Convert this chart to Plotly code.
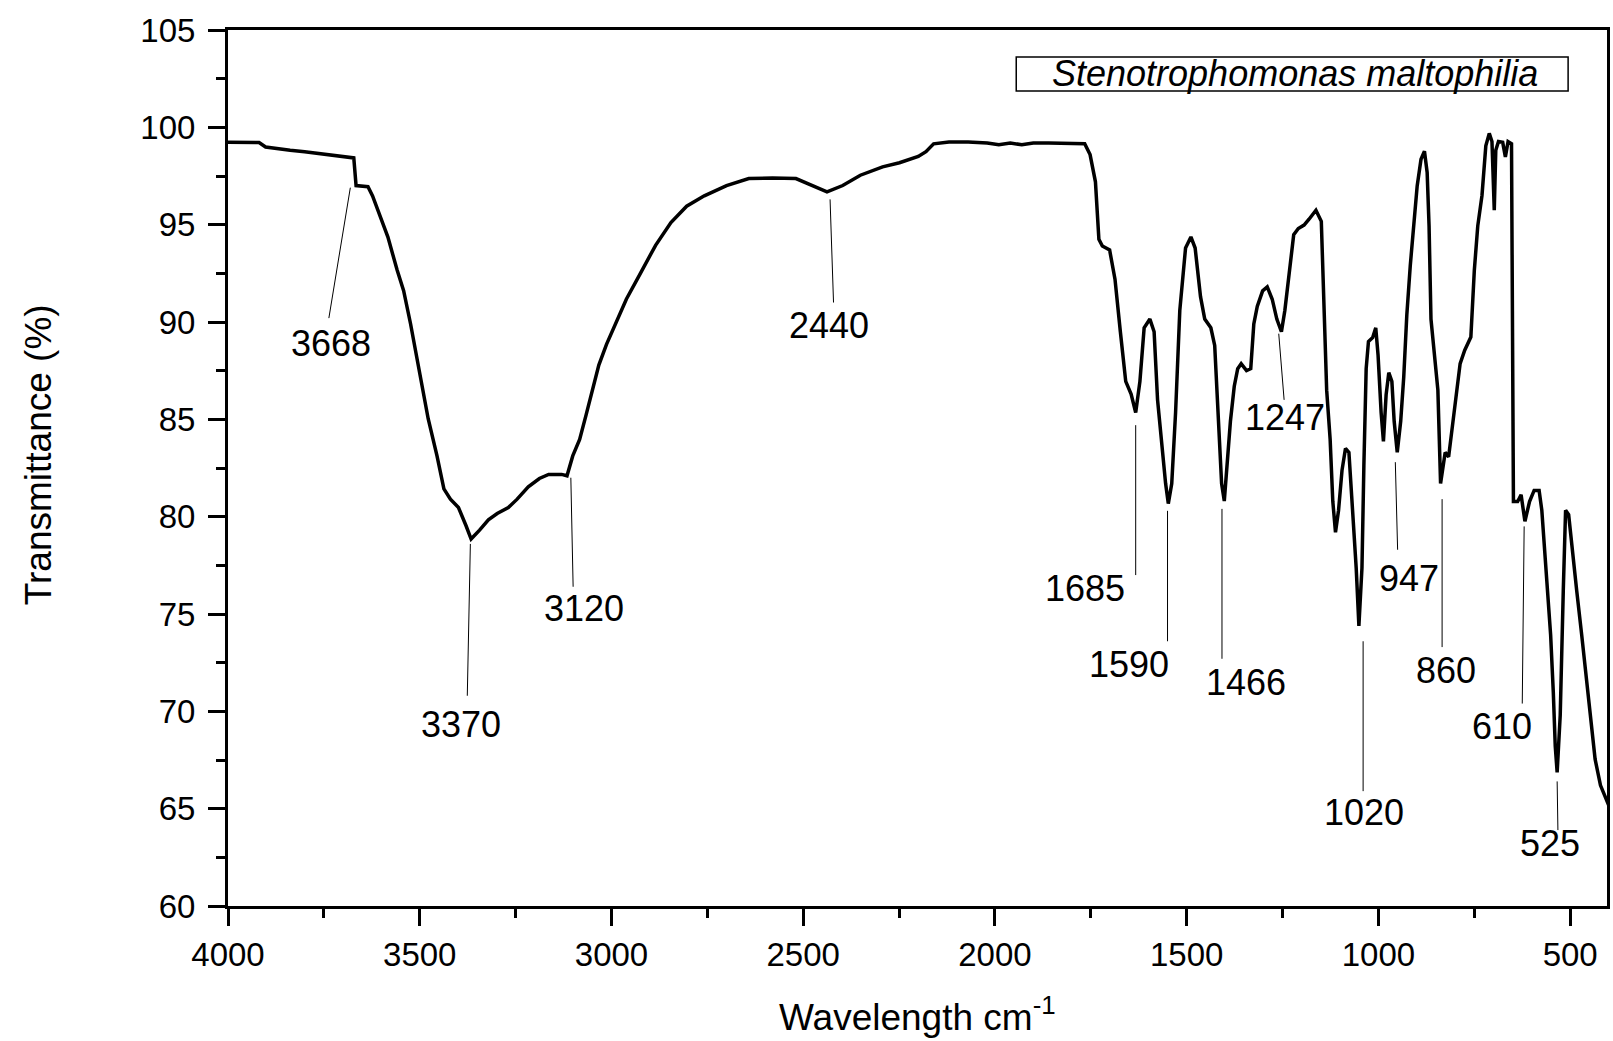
import plotly.graph_objects as go

# ---- spectrum data (wavenumber cm-1, transmittance %) ----
wavenumber = [
    4000, 3960, 3919, 3902, 3870, 3838, 3800, 3757, 3720, 3690, 3672, 3666, 3650, 3635,
    3623, 3606, 3583, 3559, 3542, 3524, 3501, 3478, 3455, 3437, 3420, 3399, 3379, 3366,
    3344, 3321, 3298, 3269, 3246, 3217, 3188, 3164, 3130, 3116, 3101, 3083, 3066, 3048,
    3033, 3013, 2990, 2961, 2926, 2885, 2845, 2804, 2758, 2700, 2642, 2580, 2519, 2479,
    2438, 2397, 2351, 2293, 2249, 2200, 2180, 2160, 2120, 2070, 2020, 1990, 1960, 1930,
    1900, 1860, 1800, 1766, 1752, 1738, 1729, 1720, 1701, 1687, 1673, 1659, 1645, 1633,
    1622, 1611, 1596, 1585, 1576, 1566, 1555, 1548, 1539, 1529, 1518, 1503, 1489, 1478,
    1464, 1453, 1437, 1427, 1418, 1409, 1402, 1393, 1386, 1376, 1367, 1358, 1344, 1333,
    1325, 1316, 1302, 1290, 1277, 1265, 1253, 1244, 1233, 1221, 1209, 1194, 1181, 1163,
    1149, 1142, 1135, 1126, 1119, 1112, 1104, 1095, 1086, 1077, 1070, 1064, 1058, 1051,
    1043, 1038, 1032, 1026, 1015, 1007, 1001, 993, 987, 980, 973, 965, 959, 951,
    942, 934, 926, 917, 908, 899, 889, 880, 873, 868, 863, 854, 845, 838,
    826, 817, 806, 796, 787, 775, 759, 750, 741, 730, 720, 711, 704, 698,
    694, 687, 676, 669, 662, 653, 648, 637, 628, 618, 606, 594, 581, 574,
    563, 551, 544, 539, 534, 526, 518, 512, 504, 495, 483, 470, 458, 446,
    435, 421, 407, 398,
]
transmittance = [
    99.24, 99.24, 99.22, 98.99, 98.90, 98.82, 98.75, 98.65, 98.58, 98.50, 98.43, 97.01, 96.98, 96.95,
    96.48, 95.63, 94.36, 92.67, 91.61, 89.91, 87.58, 85.03, 83.12, 81.43, 80.90, 80.47, 79.52, 78.85,
    79.31, 79.84, 80.16, 80.47, 80.90, 81.53, 81.96, 82.17, 82.17, 82.10, 83.12, 83.97, 85.24, 86.73,
    87.79, 88.85, 89.91, 91.18, 92.45, 93.94, 95.11, 95.95, 96.48, 97.01, 97.37, 97.40, 97.37, 97.01,
    96.69, 97.01, 97.54, 97.97, 98.18, 98.50, 98.75, 99.15, 99.25, 99.25, 99.20, 99.10, 99.20, 99.10,
    99.20, 99.20, 99.20, 99.16, 98.60, 97.20, 94.25, 93.90, 93.70, 92.20, 89.50, 86.95, 86.30, 85.35,
    86.95, 89.70, 90.15, 89.50, 86.00, 83.75, 81.70, 80.67, 81.70, 85.35, 90.60, 93.80, 94.37, 93.80,
    91.30, 90.15, 89.70, 88.80, 85.35, 81.70, 80.80, 83.07, 84.90, 86.70, 87.60, 87.86, 87.50, 87.60,
    89.90, 90.80, 91.60, 91.80, 91.17, 90.15, 89.50, 90.60, 92.65, 94.48, 94.80, 94.98, 95.28, 95.74,
    95.17, 90.80, 86.50, 83.98, 80.78, 79.20, 80.33, 82.38, 83.50, 83.30, 81.24, 79.40, 77.36, 74.39,
    77.36, 82.60, 87.60, 89.00, 89.20, 89.70, 88.30, 85.35, 83.87, 86.26, 87.40, 86.95, 84.90, 83.30,
    84.90, 87.18, 90.37, 92.90, 94.94, 96.99, 98.36, 98.77, 97.68, 94.94, 90.15, 88.09, 86.50, 81.70,
    83.30, 83.07, 84.90, 86.70, 87.86, 88.55, 89.23, 92.65, 94.94, 96.50, 99.05, 99.69, 99.27, 95.74,
    98.82, 99.27, 99.23, 98.48, 99.27, 99.16, 80.78, 80.78, 81.12, 79.76, 80.78, 81.35, 81.35, 80.33,
    77.36, 73.93, 70.97, 68.23, 66.86, 69.80, 76.20, 80.33, 80.10, 78.27, 76.20, 73.93, 71.65, 69.37,
    67.54, 66.20, 65.50, 65.10,
]

# ---- peak annotations ----
peak_labels = ["3668", "3370", "3120", "2440", "1685", "1590", "1466",
               "1247", "1020", "947", "860", "610", "525"]
leader_x0 = [3681, 3368, 3106, 2430, 1633, 1550, 1408, 1260, 1040, 956, 834, 620, 534]
leader_y0 = [96.9, 78.6, 82.0, 96.3, 84.7, 80.3, 80.4, 89.4, 73.6, 82.8, 80.9, 79.5, 66.4]
leader_x1 = [3737, 3376, 3100, 2421, 1633, 1550, 1408, 1246, 1040, 950, 834, 625, 532]
leader_y1 = [90.2, 70.8, 76.4, 91.0, 77.0, 73.6, 72.7, 86.0, 65.9, 78.3, 73.3, 70.4, 63.9]
label_x = [3731, 3393, 3071, 2434, 1764, 1651, 1346, 1244, 1038, 920, 824, 678, 552]
label_y = [88.9, 69.3, 75.3, 89.8, 76.3, 72.4, 71.5, 85.1, 64.8, 76.8, 72.1, 69.2, 63.2]

sample_name = "Stenotrophomonas maltophilia"
x_title = "Wavelength cm<sup>-1</sup>"
y_title = "Transmittance (%)"

FONT = "Liberation Sans, Arial, sans-serif"

fig = go.Figure()
fig.add_trace(go.Scatter(
    x=wavenumber, y=transmittance, mode="lines",
    line=dict(color="black", width=3.5), showlegend=False, hoverinfo="skip",
))

for i, lab in enumerate(peak_labels):
    fig.add_shape(type="line", xref="x", yref="y",
                  x0=leader_x0[i], y0=leader_y0[i], x1=leader_x1[i], y1=leader_y1[i],
                  line=dict(color="black", width=1))
    fig.add_annotation(x=label_x[i], y=label_y[i], xref="x", yref="y", text=lab,
                       showarrow=False, xanchor="center", yanchor="middle",
                       font=dict(family=FONT, size=36, color="black"))

# sample name box
fig.add_shape(type="rect", xref="paper", yref="paper",
              x0=0.5716, x1=0.9718, y0=0.9304, y1=0.9692,
              line=dict(color="black", width=1.5), fillcolor="white")
fig.add_annotation(xref="paper", yref="paper", x=0.7740, y=0.9498,
                   text="<i>" + sample_name + "</i>", showarrow=False,
                   xanchor="center", yanchor="middle",
                   font=dict(family=FONT, size=36, color="black"))

# axis titles
fig.add_annotation(xref="paper", yref="paper", x=0.5, y=-0.124,
                   text=x_title, showarrow=False, xanchor="center", yanchor="middle",
                   font=dict(family=FONT, size=37, color="black"))
fig.add_annotation(xref="paper", yref="paper", x=-0.1375, y=0.515,
                   text=y_title, showarrow=False, xanchor="center", yanchor="middle",
                   textangle=-90,
                   font=dict(family=FONT, size=37, color="black"))

fig.update_layout(
    width=1613, height=1041,
    margin=dict(l=228, r=3, t=30, b=135),
    paper_bgcolor="white", plot_bgcolor="white",
    font=dict(family=FONT, color="black"),
)
fig.update_xaxes(
    range=[4000, 404], tickmode="linear", tick0=500, dtick=500,
    showgrid=False, zeroline=False,
    showline=True, linecolor="black", linewidth=3, mirror=True,
    ticks="outside", ticklen=17, tickwidth=3, tickcolor="black",
    minor=dict(ticks="outside", ticklen=9, tickwidth=3, tickcolor="black", dtick=250, tick0=250, showgrid=False),
    tickfont=dict(family=FONT, size=33, color="black"),
)
fig.update_yaxes(
    range=[60, 105], tickmode="linear", tick0=60, dtick=5,
    showgrid=False, zeroline=False,
    showline=True, linecolor="black", linewidth=3, mirror=True,
    ticks="outside", ticklen=17, tickwidth=3, tickcolor="black",
    minor=dict(ticks="outside", ticklen=9, tickwidth=3, tickcolor="black", dtick=2.5, tick0=60, showgrid=False),
    tickfont=dict(family=FONT, size=33, color="black"),
    ticklabelstandoff=6,
)

fig.write_html("out.html")
